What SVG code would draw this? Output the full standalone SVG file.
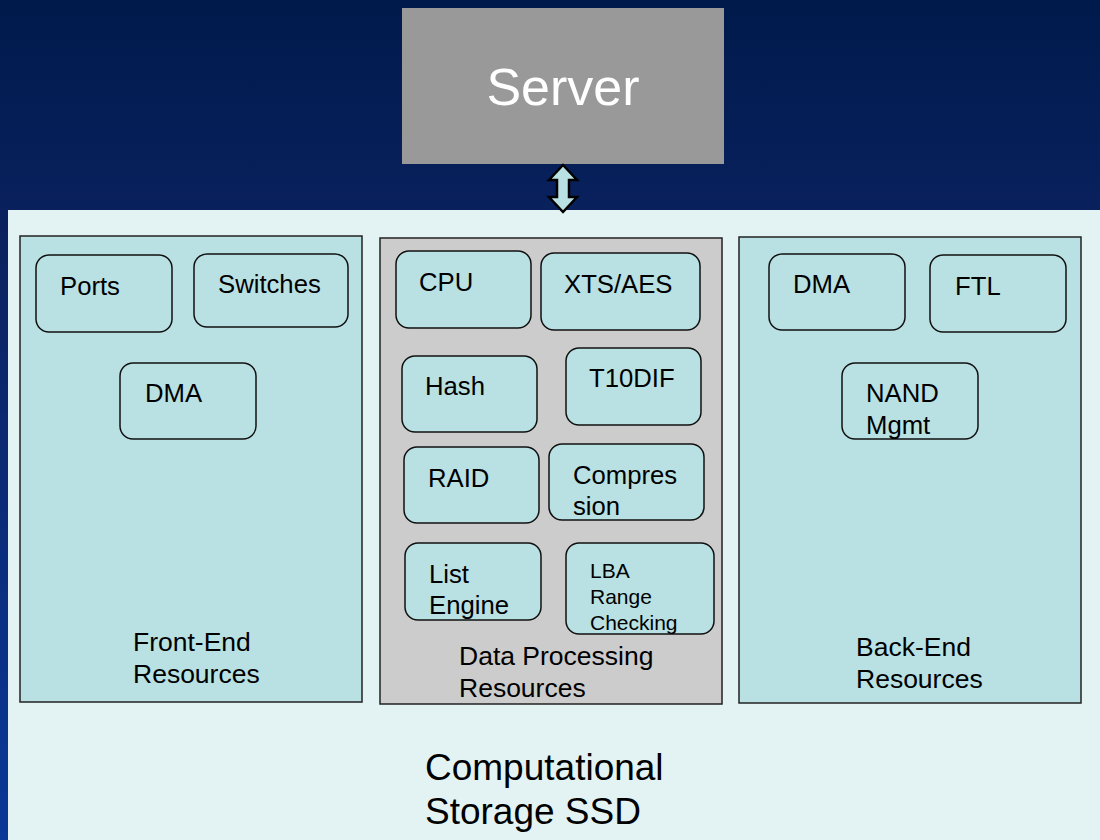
<svg xmlns="http://www.w3.org/2000/svg" width="1100" height="840" viewBox="0 0 1100 840">
<defs>
<linearGradient id="bg" x1="0" y1="0" x2="0" y2="1">
<stop offset="0" stop-color="#001a4c"/>
<stop offset="0.3" stop-color="#0b2260"/>
<stop offset="1" stop-color="#0a3898"/>
</linearGradient>
</defs>
<style>
text{font-family:"Liberation Sans",Arial,sans-serif;fill:#000}
.grp{stroke:#222;stroke-width:1.5}
.res{fill:#b9e0e3}
.dp{fill:#cccccc}
.blk{fill:#b9e0e3;stroke:#111;stroke-width:1.5}
.t{font-size:25.7px}
.s{font-size:21px}
.lab{font-size:26.5px}
</style>
<rect width="1100" height="840" fill="url(#bg)"/>
<rect x="8" y="210" width="1092" height="630" fill="#e3f3f3"/>

<g id="server">
<rect x="402" y="8" width="322" height="156" fill="#999999"/>
<text x="563" y="105" text-anchor="middle" style="font-size:52px;fill:#fff">Server</text>
</g>

<g id="connectors">
<path d="M563,165 L577,180 L569,180 L569,197 L577,197 L563,212 L549,197 L557,197 L557,180 L549,180 Z" fill="#b9e0e3" stroke="#000" stroke-width="2.5" stroke-linejoin="miter"/>
</g>

<g id="front-end">
<rect class="grp res" x="20" y="236" width="342" height="466"/>
<text class="lab" x="133" y="651">Front-End</text>
<text class="lab" x="133" y="683">Resources</text>
</g>
<g id="ports"><rect class="blk" x="36" y="255" width="136" height="77" rx="13"/><text class="t" x="60" y="295">Ports</text></g>
<g id="switches"><rect class="blk" x="194" y="254" width="154" height="73" rx="13"/><text class="t" x="218" y="293">Switches</text></g>
<g id="fe-dma"><rect class="blk" x="120" y="363" width="136" height="76" rx="13"/><text class="t" x="145" y="402">DMA</text></g>

<g id="data-processing">
<rect class="grp dp" x="380" y="238" width="342" height="466"/>
<text class="lab" x="459" y="665">Data Processing</text>
<text class="lab" x="459" y="697">Resources</text>
</g>
<g id="cpu"><rect class="blk" x="396" y="251" width="135" height="77" rx="13"/><text class="t" x="419" y="291">CPU</text></g>
<g id="xts-aes"><rect class="blk" x="541" y="253" width="159" height="77" rx="13"/><text class="t" x="564" y="293">XTS/AES</text></g>
<g id="hash"><rect class="blk" x="402" y="356" width="135" height="76" rx="13"/><text class="t" x="425" y="395">Hash</text></g>
<g id="t10dif"><rect class="blk" x="566" y="348" width="135" height="77" rx="13"/><text class="t" x="589" y="387">T10DIF</text></g>
<g id="raid"><rect class="blk" x="404" y="447" width="135" height="76" rx="13"/><text class="t" x="428" y="487">RAID</text></g>
<g id="compression"><rect class="blk" x="549" y="444" width="155" height="76" rx="13"/><text class="t" x="573" y="484">Compres</text><text class="t" x="573" y="515">sion</text></g>
<g id="list-engine"><rect class="blk" x="405" y="543" width="136" height="77" rx="13"/><text class="t" x="429" y="583">List</text><text class="t" x="429" y="614">Engine</text></g>
<g id="lba"><rect class="blk" x="566" y="543" width="148" height="91" rx="13"/><text class="s" x="590" y="578">LBA</text><text class="s" x="590" y="604">Range</text><text class="s" x="590" y="630">Checking</text></g>

<g id="back-end">
<rect class="grp res" x="739" y="237" width="342" height="466"/>
<text class="lab" x="856" y="656">Back-End</text>
<text class="lab" x="856" y="688">Resources</text>
</g>
<g id="be-dma"><rect class="blk" x="769" y="254" width="136" height="76" rx="13"/><text class="t" x="793" y="293">DMA</text></g>
<g id="ftl"><rect class="blk" x="930" y="255" width="136" height="77" rx="13"/><text class="t" x="955" y="295">FTL</text></g>
<g id="nand"><rect class="blk" x="842" y="363" width="136" height="76" rx="13"/><text class="t" x="866" y="402">NAND</text><text class="t" x="866" y="434">Mgmt</text></g>

<g id="ssd-label">
<text x="425" y="780" style="font-size:37px">Computational</text>
<text x="425" y="824" style="font-size:37px">Storage SSD</text>
</g>
</svg>
